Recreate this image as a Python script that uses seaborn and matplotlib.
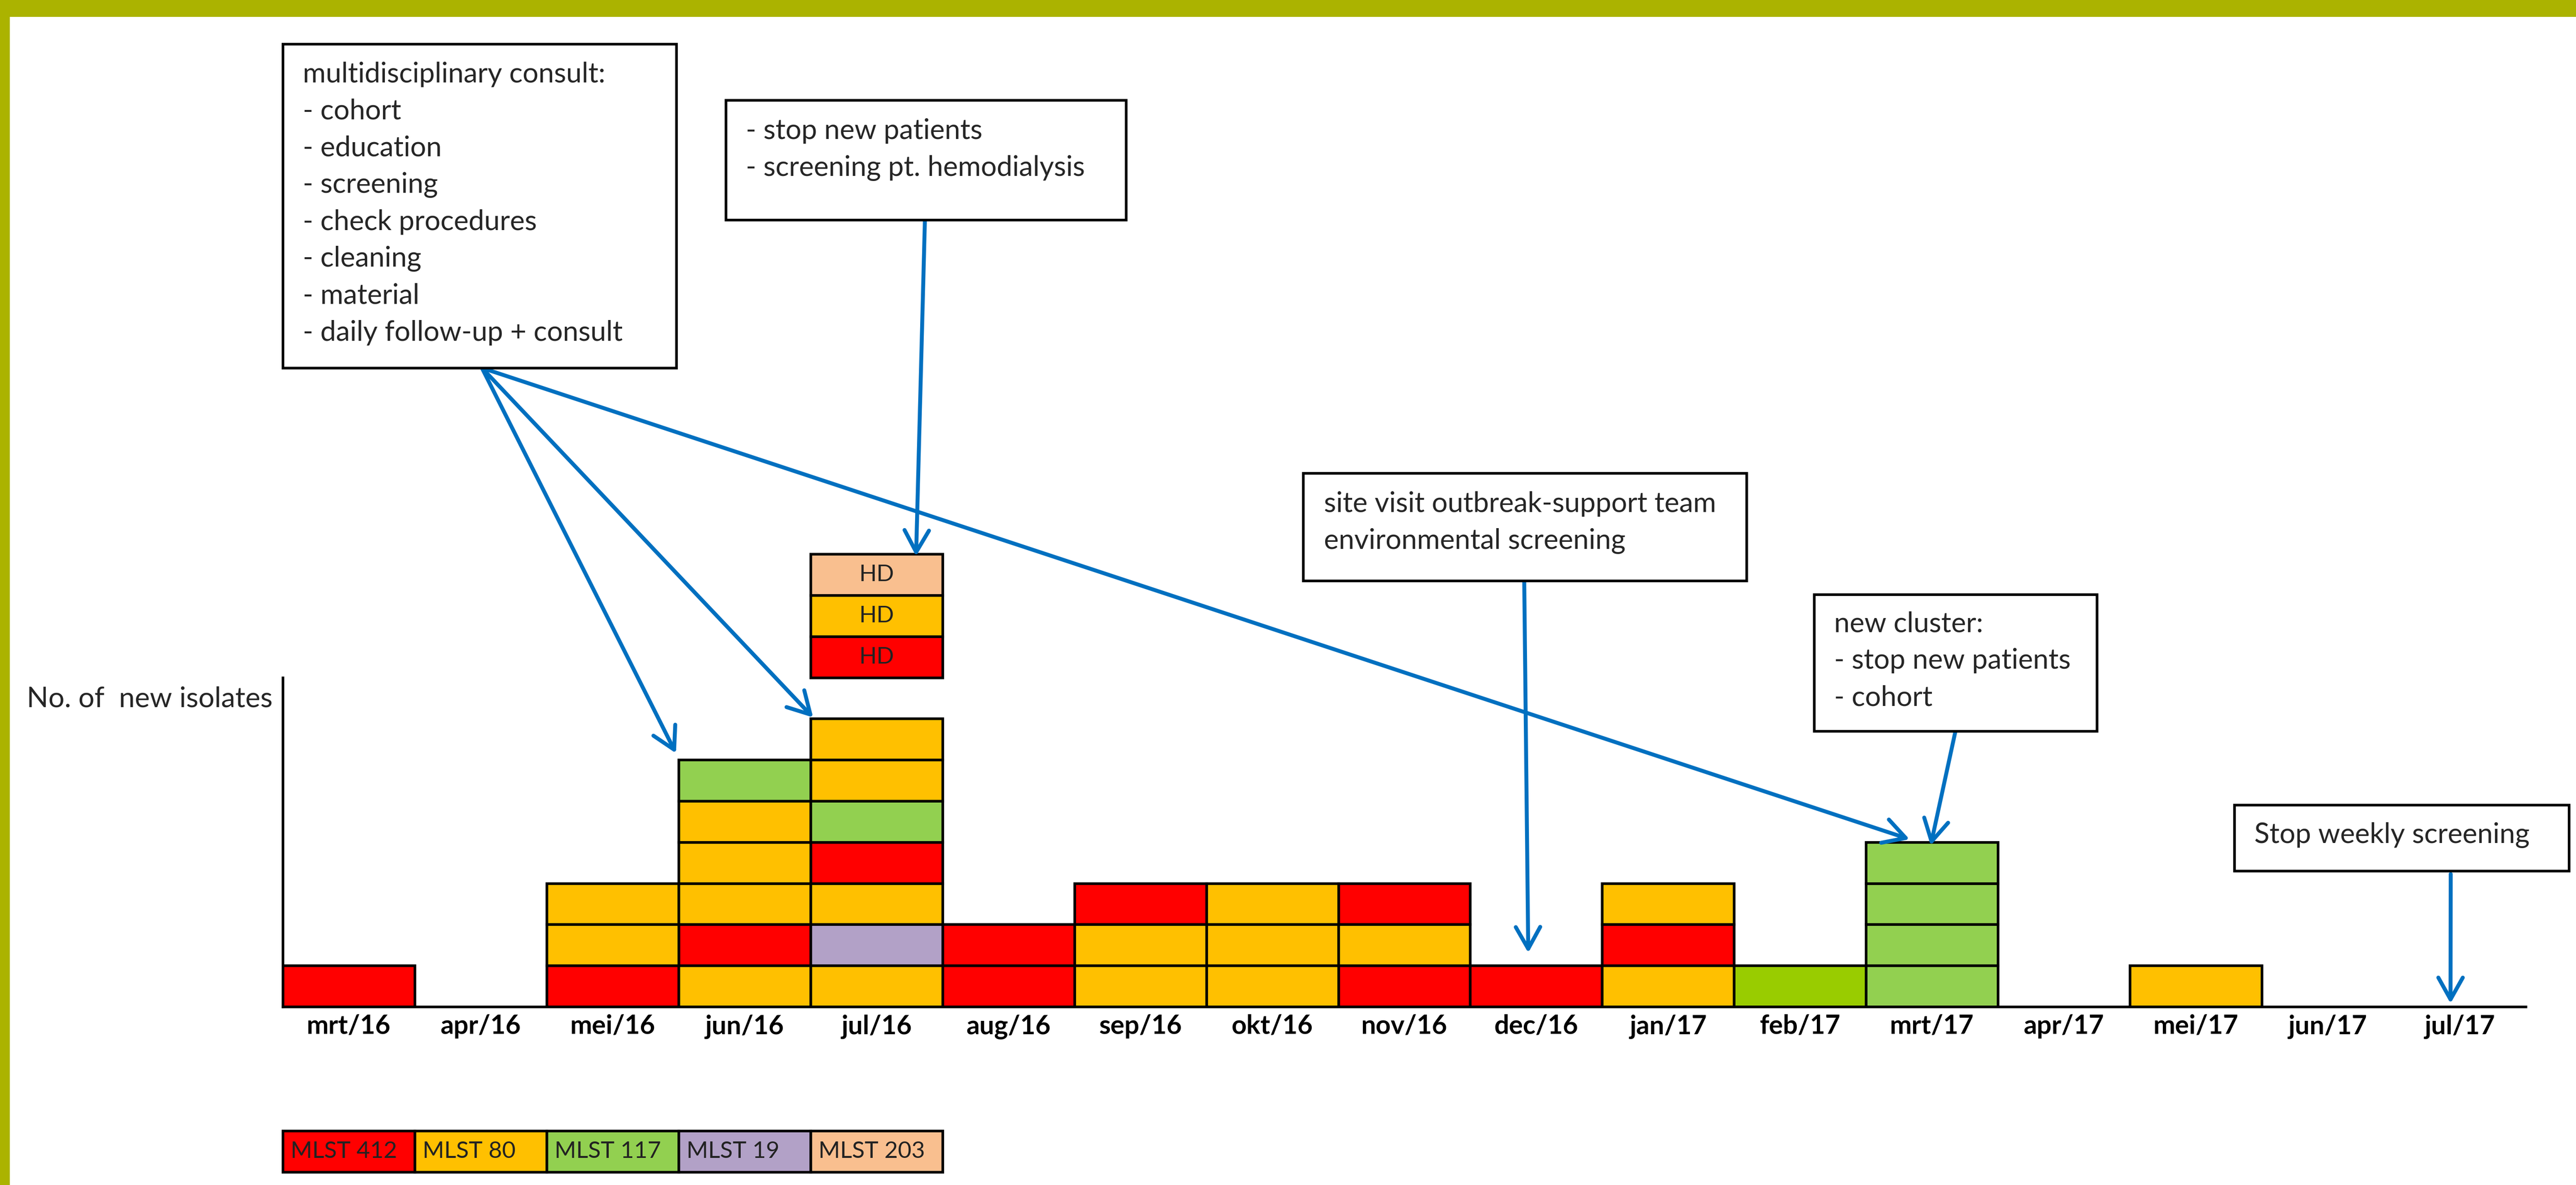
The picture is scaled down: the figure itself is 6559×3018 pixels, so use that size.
import matplotlib
matplotlib.use('Agg')
import matplotlib.pyplot as plt
from matplotlib.patches import Rectangle
import pandas as pd
import seaborn as sns

# ---- data -------------------------------------------------------------
MONTHS = ['mrt/16', 'apr/16', 'mei/16', 'jun/16', 'jul/16', 'aug/16', 'sep/16',
          'okt/16', 'nov/16', 'dec/16', 'jan/17', 'feb/17', 'mrt/17', 'apr/17',
          'mei/17', 'jun/17', 'jul/17']

# isolates per month, listed bottom -> top
STACKS = [
    ['MLST 412'],
    [],
    ['MLST 412', 'MLST 80', 'MLST 80'],
    ['MLST 80', 'MLST 412', 'MLST 80', 'MLST 80', 'MLST 80', 'MLST 117'],
    ['MLST 80', 'MLST 19', 'MLST 80', 'MLST 412', 'MLST 117', 'MLST 80', 'MLST 80'],
    ['MLST 412', 'MLST 412'],
    ['MLST 80', 'MLST 80', 'MLST 412'],
    ['MLST 80', 'MLST 80', 'MLST 80'],
    ['MLST 412', 'MLST 80', 'MLST 412'],
    ['MLST 412'],
    ['MLST 80', 'MLST 412', 'MLST 80'],
    ['MLST 117*'],
    ['MLST 117', 'MLST 117', 'MLST 117', 'MLST 117'],
    [],
    ['MLST 80'],
    [],
    [],
]

MLST_TYPES = ['MLST 412', 'MLST 80', 'MLST 117', 'MLST 19', 'MLST 203']

# hemodialysis isolates shown separately above jul/16 (bottom -> top)
HD_MONTH = 'jul/16'
HD_STACK = ['MLST 412', 'MLST 80', 'MLST 203']
HD_LABEL = 'HD'

Y_LABEL = 'No. of  new isolates'

NOTE_CONSULT = ['multidisciplinary consult:', '- cohort', '- education', '- screening',
                '- check procedures', '- cleaning', '- material',
                '- daily follow-up + consult']
NOTE_HEMO = ['- stop new patients', '- screening pt. hemodialysis']
NOTE_SITE = ['site visit outbreak-support team', 'environmental screening']
NOTE_CLUSTER = ['new cluster:', '- stop new patients', '- cohort']
NOTE_STOP = ['Stop weekly screening']

# ---- style ------------------------------------------------------------
COLORS = {'MLST 412': '#FF0000', 'MLST 80': '#FFC000', 'MLST 117': '#92D050',
          'MLST 19': '#B2A1C7', 'MLST 203': '#F9BF8F', 'MLST 117*': '#99CC00'}
ARROW_BLUE = '#0070C0'
FRAME = '#ABB300'
W_PX, H_PX = 6560, 3018
Y_TOP = 8
LEGEND_BOTTOM = -4.02
LW = 1.2
TXT = 12.8

sns.set_style('white')
plt.rcParams['font.family'] = ['Lato', 'DejaVu Sans']


def fx(px):
    return px / W_PX


def fy(py):
    return 1 - py / H_PX


# ---- long table of cells ----------------------------------------------
rows = []
for month, stack in zip(MONTHS, STACKS):
    for lvl, kind in enumerate(stack):
        rows.append({'month': month, 'level': lvl, 'mlst': kind, 'n': 1})
cells = pd.DataFrame(rows)
totals = {m: len(s) for m, s in zip(MONTHS, STACKS)}

hd = pd.DataFrame({'month': HD_MONTH, 'level': range(len(HD_STACK)),
                   'mlst': HD_STACK, 'n': 1})

fig = plt.figure(figsize=(W_PX / 400, H_PX / 400), dpi=400)
ax = fig.add_axes([fx(720), fy(2564), fx(6431) - fx(720), fy(1725.6) - fy(2564)])

for lvl, sub in cells.groupby('level'):
    sns.barplot(data=sub, x='month', y='n', hue='mlst', order=MONTHS,
                hue_order=list(COLORS), palette=COLORS, dodge=False, width=1,
                saturation=1, errorbar=None, legend=False, bottom=lvl,
                edgecolor='black', linewidth=LW, ax=ax, zorder=2)

for lvl, sub in hd.groupby('level'):
    sns.barplot(data=sub, x='month', y='n', hue='mlst', order=MONTHS,
                hue_order=list(COLORS), palette=COLORS, dodge=False, width=1,
                saturation=1, errorbar=None, legend=False, bottom=Y_TOP + lvl,
                edgecolor='black', linewidth=LW, ax=ax, clip_on=False, zorder=2)
    ax.text(MONTHS.index(HD_MONTH), Y_TOP + lvl + 0.5, HD_LABEL, ha='center',
            va='center', fontsize=10.5, color='#222222')

# legend strip under the axis
for i, kind in enumerate(MLST_TYPES):
    ax.bar(i, 1, bottom=LEGEND_BOTTOM, width=1, color=COLORS[kind],
           edgecolor='black', linewidth=LW, clip_on=False)
    ax.text(i - 0.44, LEGEND_BOTTOM + 0.5, kind, ha='left', va='center',
            fontsize=10.7, color='#222222')

ax.set_xlim(-0.5, len(MONTHS) - 0.5)
ax.set_ylim(0, Y_TOP)
ax.set_xlabel('')
ax.set_ylabel('')
ax.set_yticks([])
ax.set_xticks(range(len(MONTHS)))
ax.set_xticklabels(MONTHS, fontsize=12, fontweight='bold')
ax.tick_params(axis='x', length=0, pad=3.5, colors='black')
for side in ['top', 'right']:
    ax.spines[side].set_visible(False)
for side in ['left', 'bottom']:
    ax.spines[side].set_color('black')
    ax.spines[side].set_linewidth(LW)
    ax.spines[side].set_zorder(3)

fig.text(fx(68), fy(1780), Y_LABEL, ha='left', va='center', fontsize=13)

# ---- note boxes -------------------------------------------------------
boxes = [
    (NOTE_CONSULT, (720, 112, 1722, 937), 771, 189),
    (NOTE_HEMO, (1848, 255, 2867, 560), 1899, 334),
    (NOTE_SITE, (3318, 1205, 4447, 1479), 3371, 1284),
    (NOTE_CLUSTER, (4619, 1514, 5339, 1862), 4670, 1589),
    (NOTE_STOP, (5689, 2050, 6541, 2218), 5740, 2127),
]
for lines, (x0, y0, x1, y1), tx, ty in boxes:
    fig.add_artist(Rectangle((fx(x0), fy(y1)), fx(x1) - fx(x0), fy(y0) - fy(y1),
                             transform=fig.transFigure, facecolor='white',
                             edgecolor='black', linewidth=LW, zorder=1))
    for k, line in enumerate(lines):
        fig.text(fx(tx), fy(ty + 94 * k), line, ha='left', va='center',
                 fontsize=TXT, zorder=2)

# ---- arrows: start on a box edge, tip on a stack --------------------------
hd_top = Y_TOP + len(HD_STACK)
arrows = [
    ((1227, 937), 'jun/16', -0.52, totals['jun/16'] + 0.16),
    ((1227, 937), 'jul/16', -0.48, totals['jul/16'] + 0.03),
    ((1227, 937), 'mrt/17', -0.17, totals['mrt/17'] + 0.07),
    ((2355, 560), HD_MONTH, 0.30, hd_top - 0.05),
    ((3881, 1479), 'dec/16', -0.06, totals['dec/16'] + 0.31),
    ((4979, 1862), 'mrt/17', -0.01, totals['mrt/17'] - 0.08),
    ((6240, 2226), 'jul/17', -0.07, totals['jul/17'] + 0.08),
]
for (sx, sy), month, dx, ty in arrows:
    ax.annotate('', xy=(MONTHS.index(month) + dx, ty), xycoords='data',
                xytext=(fx(sx), fy(sy)), textcoords='figure fraction',
                annotation_clip=False, zorder=5,
                arrowprops=dict(arrowstyle='->,head_length=0.5,head_width=0.28',
                                mutation_scale=20, color=ARROW_BLUE, lw=1.8,
                                shrinkA=0, shrinkB=0))

# olive frame on top and left edge
fig.add_artist(Rectangle((0, fy(43)), 1, 1 - fy(43), transform=fig.transFigure,
                         facecolor=FRAME, linewidth=0, zorder=10))
fig.add_artist(Rectangle((0, 0), fx(25), 1, transform=fig.transFigure,
                         facecolor=FRAME, linewidth=0, zorder=10))

fig.savefig('out.png', dpi=400, facecolor='white')
